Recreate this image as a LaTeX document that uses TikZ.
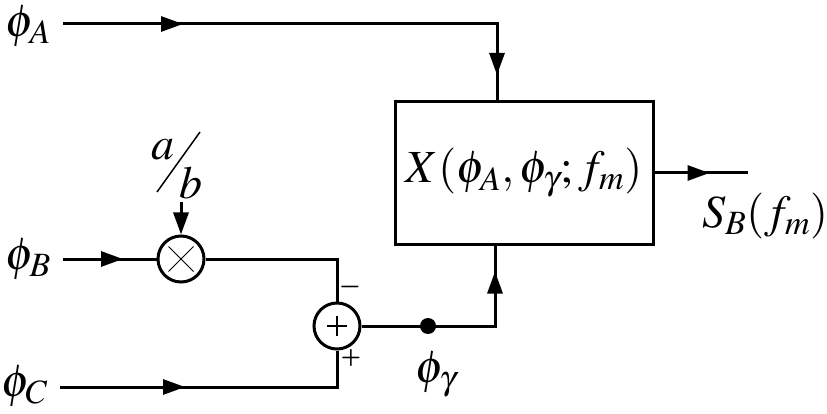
\documentclass[tikz,border=0pt]{standalone}
\usepackage{mathptmx}
\usetikzlibrary{arrows.meta,decorations.markings}

\tikzset{
  sig/.style={line width=3pt},
  tip/.style={-{Triangle[length=22pt,width=15pt]}},
  midtip/.style={postaction={decorate},
    decoration={markings,mark=at position #1 with {\arrow{Triangle[length=22pt,width=15pt]}}}},
  junction/.style={draw,circle,line width=3pt,minimum size=46pt,inner sep=0pt},
  sign/.style={font=\fontsize{26}{30}\fontfamily{lmr}\bfseries\selectfont,inner sep=0pt},
  input/.style={anchor=east,inner xsep=12pt,inner ysep=0pt},
}

\begin{document}
\begin{tikzpicture}[x=1pt,y=-1pt,font=\fontsize{46}{55}\selectfont]
    \useasboundingbox (0,0) rectangle (827,414);

    % blocks
    \node[draw,line width=3pt,minimum width=258pt,minimum height=142pt,inner sep=0pt] (xbox) at (524,173) {$X(\phi_A,\phi_\gamma;f_m)$};
    \node[junction] (mul) at (181,259) {};
    \draw[line width=1pt] ([shift={(-12.5,-12.5)}]mul.center) -- ([shift={(12.5,12.5)}]mul.center);
    \draw[line width=1pt] ([shift={(-12.5,12.5)}]mul.center) -- ([shift={(12.5,-12.5)}]mul.center);
    \node[junction] (sum) at (337,326) {};
    \draw[line width=1.5pt] ([xshift=-10pt]sum.center) -- ([xshift=10pt]sum.center);
    \draw[line width=1.5pt] ([yshift=-10pt]sum.center) -- ([yshift=10pt]sum.center);
    \node[circle,fill,minimum size=16pt,inner sep=0pt] (tap) at (428,326) {};

    % inputs
    \node[input] (phiA) at (63,26) {$\phi_A$};
    \node[input] (phiB) at (63,259) {$\phi_B$};
    \node[input] (phiC) at (60,386) {$\phi_C$};
    \node[inner sep=0pt] (num) at (163,150) {$a$};
    \node[inner sep=0pt] (den) at (191,183) {$b$};
    \draw[line width=1.5pt] (157,192) -- (200,132);
    \coordinate (abtop) at (181,202);

    % corners
    \coordinate (cornA) at (497,24);
    \coordinate (cornM) at (337,259);
    \coordinate (cornC) at (337,387);
    \coordinate (cornG) at (495,326);
    \coordinate (outend) at (748,173);

    % connectors
    \draw[sig,postaction={decorate},decoration={markings,
        mark=at position 120pt with {\arrow{Triangle[length=22pt,width=15pt]}},
        mark=at position 485pt with {\arrow{Triangle[length=22pt,width=15pt]}}}]
      (phiA.east |- cornA) -- (cornA) -- (cornA |- xbox.north);
    \draw[sig,midtip=60pt] (phiB) -- (mul);
    \draw[sig,tip] (abtop) -- (mul);
    \draw[sig] (mul) -- (cornM) -- (sum);
    \draw[sig,midtip=125pt] (phiC.east |- cornC) -- (cornC) -- (sum);
    \draw[sig,midtip=188pt] (sum) -- (cornG) -- (cornG |- xbox.south);
    \draw[sig,midtip=55pt] (xbox.east) -- (outend);

    % labels
    \node[sign] (minus) at (350,290) {\char"2212};
    \node[sign] (plus) at (351,358) {+};
    \node[inner sep=0pt] (phiG) at (436,374) {$\phi_\gamma$};
    \node[inner sep=0pt] (sout) at (765,216) {$S_B(f_m)$};
\end{tikzpicture}
\end{document}
